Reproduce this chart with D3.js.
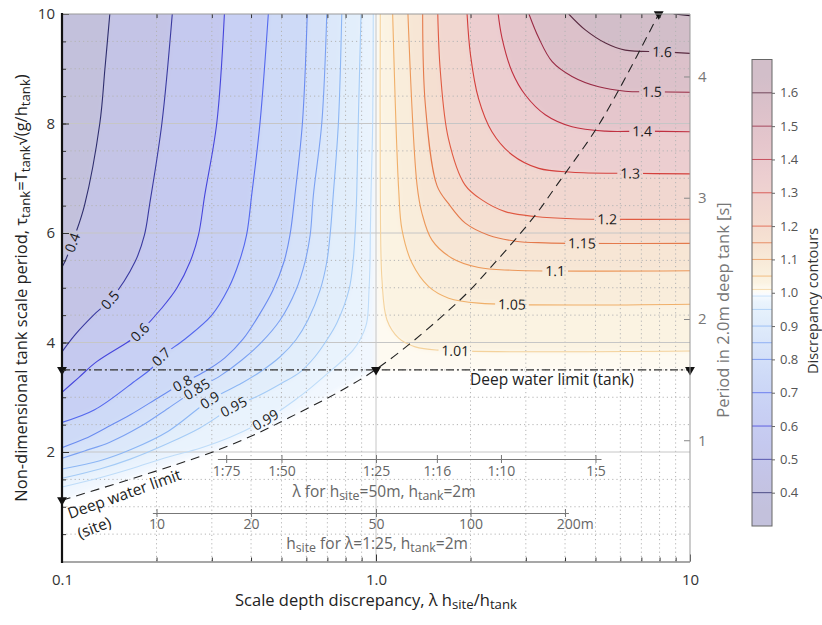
<!DOCTYPE html>
<html>
<head>
<meta charset="utf-8">
<script src="https://cdn.jsdelivr.net/npm/d3@7"></script>
<style>
  body { margin: 0; background: #fff; }
  text { font-family: "Open Sans", "Noto Sans", sans-serif; }
</style>
</head>
<body>
<svg id="chart" width="822" height="625"></svg>
<script>
// contour traces: [lambda h_site/h_tank, tau]
var lvl040 = [[0.142,10],[0.137,9.0],[0.132,8.01],[0.118,6.51],[0.110,5.96],[0.102,5.47],[0.1,5.38]];
var lvl050 = [[0.2245,10],[0.208,8.0],[0.190,6.51],[0.183,5.96],[0.171,5.48],[0.144,4.81],[0.126,4.5],[0.110,4.14],[0.1,3.83]];
var lvl060 = [[0.329,10],[0.311,8.0],[0.285,6.70],[0.272,5.96],[0.256,5.48],[0.232,4.99],[0.208,4.63],[0.177,4.19],[0.167,4.06],[0.129,3.65],[0.113,3.36],[0.1,3.09]];
var lvl070 = [[0.454,10],[0.427,8.0],[0.402,6.70],[0.387,5.96],[0.367,5.48],[0.339,4.99],[0.300,4.50],[0.246,4.06],[0.207,3.74],[0.193,3.53],[0.173,3.32],[0.127,2.77],[0.1,2.54]];
var lvl080 = [[0.604,10],[0.583,8.01],[0.552,6.70],[0.532,5.96],[0.509,5.47],[0.470,4.96],[0.424,4.50],[0.377,4.06],[0.330,3.72],[0.285,3.47],[0.241,3.25],[0.205,3.01],[0.165,2.68],[0.140,2.46],[0.118,2.24],[0.1,2.08]];
var lvl085 = [[0.697,10],[0.672,8.01],[0.632,6.70],[0.617,5.96],[0.594,5.47],[0.556,4.96],[0.495,4.41],[0.433,4.01],[0.374,3.68],[0.319,3.39],[0.269,3.15],[0.218,2.80],[0.177,2.46],[0.142,2.18],[0.118,2.02],[0.1,1.885]];
var lvl090 = [[0.778,10],[0.759,8.01],[0.731,6.70],[0.714,5.96],[0.697,5.47],[0.664,4.96],[0.607,4.41],[0.556,4.05],[0.495,3.74],[0.427,3.46],[0.374,3.26],[0.296,2.95],[0.218,2.38],[0.165,2.04],[0.132,1.84],[0.1,1.69]];
var lvl095 = [[0.896,10],[0.878,8.01],[0.868,6.70],[0.857,5.96],[0.845,5.47],[0.820,4.96],[0.751,4.36],[0.698,4.05],[0.639,3.74],[0.573,3.46],[0.502,3.26],[0.427,3.04],[0.351,2.82],[0.275,2.44],[0.218,2.16],[0.165,1.87],[0.132,1.69],[0.1,1.52]];
var lvl099 = [[0.980,10],[0.976,8.01],[0.964,6.70],[0.959,5.96],[0.957,5.47],[0.950,4.96],[0.934,4.36],[0.889,4.05],[0.845,3.86],[0.768,3.63],[0.703,3.44],[0.625,3.19],[0.552,2.95],[0.443,2.58],[0.343,2.27],[0.275,2.07],[0.218,1.91],[0.165,1.69],[0.132,1.53],[0.1,1.36]];
var lvl101 = [[1.032,10],[1.032,6.97],[1.045,5.14],[1.084,4.41],[1.181,4.08],[1.334,3.92],[1.585,3.86],[10,3.845]];
var lvl105 = [[1.130,10],[1.181,6.79],[1.21,6.06],[1.302,5.45],[1.472,5.02],[1.704,4.81],[2.124,4.72],[10,4.70]];
var lvl110 = [[1.264,10],[1.351,6.88],[1.401,6.36],[1.508,5.87],[1.746,5.54],[2.124,5.37],[2.711,5.32],[10,5.31]];
var lvl115 = [[1.408,10],[1.436,8.34],[1.565,6.86],[1.70,6.54],[1.925,6.18],[2.285,5.96],[2.78,5.85],[3.46,5.82],[10,5.81]];
var lvl120 = [[1.573,10],[1.603,8.95],[1.70,7.73],[1.92,6.88],[2.18,6.60],[2.58,6.39],[3.22,6.30],[4.21,6.26],[10,6.25]];
var lvl130 = [[1.95,10],[2.00,9.25],[2.12,8.46],[2.34,7.85],[2.71,7.43],[3.30,7.18],[4.21,7.11],[6.46,7.09],[10,7.08]];
var lvl140 = [[2.45,10],[2.52,9.56],[2.71,8.95],[2.99,8.52],[3.46,8.16],[4.21,7.94],[5.38,7.86],[7.03,7.86],[10,7.85]];
var lvl150 = [[3.07,10],[3.30,9.56],[3.64,9.13],[4.21,8.86],[5.12,8.67],[6.22,8.59],[7.57,8.58],[10,8.57]];
var lvl160 = [[4.11,10],[4.64,9.71],[5.38,9.47],[6.22,9.34],[8.14,9.31],[10,9.28]];
var lvl170 = [[8.87,10],[10,9.97]];

var blueLevels = [0.4, 0.5, 0.6, 0.7, 0.8, 0.85, 0.9, 0.95, 0.99];
var redLevels = [1.01, 1.05, 1.1, 1.15, 1.2, 1.3, 1.4, 1.5, 1.6, 1.7];
var blueTraces = [lvl040, lvl050, lvl060, lvl070, lvl080, lvl085, lvl090, lvl095, lvl099];
var redTraces = [lvl101, lvl105, lvl110, lvl115, lvl120, lvl130, lvl140, lvl150, lvl160, lvl170];

// deep water limits
var deepSite = [[0.1,1.12],[0.315,2.04],[0.526,2.62],[1,3.51],[1.83,4.75],[2.31,5.36],[3.22,6.33],[3.77,6.88],[5.0,7.88],[5.93,8.61],[7.95,10]];
var deepTank = [[0.1,3.5],[10,3.5]];

// ticks
var yTicks = [2, 4, 6, 8, 10];
var xTicks = [0.1, 1, 10];
var periodTicks = [1, 2, 3, 4];
var scaleTicks = [75, 50, 25, 16, 10, 5];      // lambda = 1:n
var siteTicks = [10, 20, 50, 100, 200];         // h_site in m
var barTicks = [0.4, 0.5, 0.6, 0.7, 0.8, 0.9, 1.0, 1.1, 1.2, 1.3, 1.4, 1.5, 1.6];
var barEdges = [0.3, 0.4, 0.5, 0.6, 0.7, 0.8, 0.85, 0.9, 0.95, 0.99, 1.0, 1.01, 1.05, 1.1, 1.15, 1.2, 1.3, 1.4, 1.5, 1.6, 1.7];

// colours
var lineColor = {0.4:"#2e2e6e",0.5:"#3a3aa0",0.6:"#4646dc",0.7:"#5468ee",0.8:"#6a8cf0",0.85:"#7ca2f2",
  0.9:"#8cb6f4",0.95:"#a4cbf6",0.99:"#bedcf9",1.01:"#f4d29c",1.05:"#f0b06a",1.1:"#ec985a",1.15:"#e47a4c",
  1.2:"#e05a42",1.3:"#d4403c",1.4:"#c03040",1.5:"#982a44",1.6:"#5a2a40",1.7:"#301830"};
// fill of the band just past each level
var bandBelow = {1.0:"#f1f7fe",0.99:"#e9f3fd",0.95:"#e2eefb",0.9:"#dce8fa",0.85:"#d6e2f9",0.8:"#cedaf7",
  0.7:"#c8d0f4",0.6:"#c5c9ef",0.5:"#c4c4e6",0.4:"#c3c1dc"};
var bandAbove = {1.0:"#fefaf1",1.01:"#fbf3e2",1.05:"#f9eddb",1.1:"#f7e6d5",1.15:"#f5dfd1",1.2:"#f1d7d0",
  1.3:"#ecced0",1.4:"#e5c6cc",1.5:"#dcc1ca",1.6:"#d2bec9",1.7:"#cbbcc8"};

// where the inline contour labels sit
var labelSpots = [[0.4,0.110,5.81],[0.5,0.142,4.78],[0.6,0.177,4.19],[0.7,0.207,3.74],[0.8,0.241,3.26],
  [0.85,0.269,3.15],[0.9,0.296,2.95],[0.95,0.3525,2.82],[0.99,0.446,2.58],[1.01,1.789,3.86],[1.05,2.711,4.72],
  [1.1,3.725,5.33],[1.15,4.53,5.84],[1.2,5.443,6.27],[1.3,6.457,7.09],[1.4,7.034,7.86],[1.5,7.568,8.58],[1.6,8.143,9.31]];

var svg = d3.select("#chart");
var x = d3.scaleLog().domain([0.1, 10]).range([62, 690]);
var y = d3.scaleLinear().domain([0, 10]).range([561.5, 14]);
var smooth = d3.line().x(function(d){ return x(d[0]); }).y(function(d){ return y(d[1]); }).curve(d3.curveCatmullRom.alpha(0.5));
var straight = d3.line().x(function(d){ return x(d[0]); }).y(function(d){ return y(d[1]); });
function pt(a, b) { return x(a) + "," + y(b); }

var defs = svg.append("defs");
defs.append("clipPath").attr("id", "plotclip").append("rect")
  .attr("x", 62).attr("y", 14).attr("width", 628).attr("height", 547.5);
defs.append("filter").attr("id", "soft").attr("x", "-5%").attr("y", "-5%").attr("width", "110%").attr("height", "110%")
  .append("feGaussianBlur").attr("stdDeviation", 2.5);

// ---- filled field (bands, softened a little)
var fillG = svg.append("g").attr("clip-path", "url(#plotclip)").append("g").attr("filter", "url(#soft)");
var siteLow = deepSite.filter(function(d){ return d[0] <= 1; }).reverse();
fillG.append("path")
  .attr("d", "M" + pt(0.09, 10.3) + "L" + pt(1, 10.3) + "L" + pt(1, 3.5) + "L" +
    siteLow.map(function(d){ return pt(d[0], d[1]); }).join("L") + "L" + pt(0.09, 1.1) + "Z")
  .attr("fill", bandBelow[1.0]);
fillG.append("path").attr("d", "M" + pt(1, 10.3) + "L" + pt(11, 10.3) + "L" + pt(11, 3.5) + "L" + pt(1, 3.5) + "Z")
  .attr("fill", bandAbove[1.0]);

for (var i = blueLevels.length - 1; i >= 0; i--) {
  var tr = blueTraces[i], last = tr[tr.length - 1];
  fillG.append("path")
    .attr("d", "M" + pt(tr[0][0], 10.3) + "L" + smooth(tr).substring(1) + "L" + pt(0.09, last[1]) + "L" + pt(0.09, 10.3) + "Z")
    .attr("fill", bandBelow[blueLevels[i]]);
}
for (var i = 0; i < redLevels.length; i++) {
  var tr = redTraces[i], last = tr[tr.length - 1];
  fillG.append("path")
    .attr("d", "M" + pt(tr[0][0], 10.3) + "L" + smooth(tr).substring(1) + "L" + pt(11, last[1]) + "L" + pt(11, 10.3) + "Z")
    .attr("fill", bandAbove[redLevels[i]]);
}

// ---- grid
var gridG = svg.append("g").attr("clip-path", "url(#plotclip)");
var minorY = d3.range(0.5, 10, 0.5).filter(function(v){ return v % 2 !== 0; });
var minorX = [0.2,0.3,0.4,0.5,0.6,0.7,0.8,0.9,2,3,4,5,6,7,8,9];
gridG.selectAll(".gy").data(minorY).enter().append("line")
  .attr("x1", 62).attr("x2", 690).attr("y1", y).attr("y2", y)
  .attr("stroke", "#b4b4b4").attr("stroke-width", 1).attr("stroke-dasharray", "1.2,3");
gridG.selectAll(".gx").data(minorX).enter().append("line")
  .attr("y1", 14).attr("y2", 561.5).attr("x1", x).attr("x2", x)
  .attr("stroke", "#b4b4b4").attr("stroke-width", 1).attr("stroke-dasharray", "1.2,3");
gridG.selectAll(".gY").data([2,4,6,8]).enter().append("line")
  .attr("x1", 62).attr("x2", 690).attr("y1", y).attr("y2", y)
  .attr("stroke", "#c6c6c6").attr("stroke-width", 1);
gridG.append("line").attr("x1", x(1)).attr("x2", x(1)).attr("y1", 14).attr("y2", 561.5)
  .attr("stroke", "#c6c6c6").attr("stroke-width", 1);

// ---- contour lines with gaps for labels
var mask = defs.append("mask").attr("id", "lblmask").attr("maskUnits", "userSpaceOnUse")
  .attr("x", 0).attr("y", 0).attr("width", 822).attr("height", 625);
mask.append("rect").attr("width", 822).attr("height", 625).attr("fill", "#fff");

var lineG = svg.append("g").attr("clip-path", "url(#plotclip)").append("g").attr("mask", "url(#lblmask)");
var allLevels = blueLevels.concat(redLevels);
var allTraces = blueTraces.concat(redTraces);
var pathNode = {};
allLevels.forEach(function(v, k) {
  var p = lineG.append("path").attr("d", smooth(allTraces[k]))
    .attr("fill", "none").attr("stroke", lineColor[v]).attr("stroke-width", 1.1);
  pathNode[v] = p.node();
});

var labelG = svg.append("g");
labelSpots.forEach(function(s) {
  var node = pathNode[s[0]];
  var tx = x(s[1]), ty = y(s[2]);
  var len = node.getTotalLength(), best = 0, bd = 1e9;
  for (var t = 0; t <= len; t += 0.5) {
    var q = node.getPointAtLength(t);
    var dd = (q.x - tx) * (q.x - tx) + (q.y - ty) * (q.y - ty);
    if (dd < bd) { bd = dd; best = t; }
  }
  var c = node.getPointAtLength(best);
  var a = node.getPointAtLength(Math.max(0, best - 5));
  var b = node.getPointAtLength(Math.min(len, best + 5));
  var ang = Math.atan2(b.y - a.y, b.x - a.x) * 180 / Math.PI;
  if (ang > 90) ang -= 180;
  if (ang < -90) ang += 180;
  var txt = labelG.append("text")
    .attr("transform", "translate(" + c.x + "," + c.y + ") rotate(" + ang + ")")
    .attr("text-anchor", "middle").attr("dy", "0.36em")
    .attr("font-size", 14).attr("fill", "#1a1a1a")
    .text(s[0]);
  var w = txt.node().getComputedTextLength() + 6;
  mask.append("rect")
    .attr("transform", "translate(" + c.x + "," + c.y + ") rotate(" + ang + ")")
    .attr("x", -w / 2).attr("y", -6.5).attr("width", w).attr("height", 13).attr("fill", "#000");
});

// ---- deep water limit lines
var limG = svg.append("g").attr("clip-path", "url(#plotclip)");
limG.append("path").attr("d", smooth(deepSite)).attr("fill", "none")
  .attr("stroke", "#222").attr("stroke-width", 1.1).attr("stroke-dasharray", "9,6");
limG.append("path").attr("d", straight(deepTank)).attr("fill", "none")
  .attr("stroke", "#333").attr("stroke-width", 1.3).attr("stroke-dasharray", "8,3,2,3");

var tri = d3.symbol().type(d3.symbolTriangle).size(42);
var markers = [[0.1,3.5],[1,3.5],[10,3.5],deepSite[0],deepSite[deepSite.length - 1]];
svg.selectAll(".mk").data(markers).enter().append("path")
  .attr("d", tri)
  .attr("transform", function(d){ return "translate(" + x(d[0]) + "," + y(d[1]) + ") rotate(180)"; })
  .attr("fill", "#111");

svg.append("text").attr("x", 470).attr("y", 385).attr("font-size", 15.5).attr("fill", "#222")
  .text("Deep water limit (tank)");
svg.append("text").attr("transform", "translate(70,519) rotate(-19.5)").attr("font-size", 15.5).attr("fill", "#222")
  .text("Deep water limit");
svg.append("text").attr("transform", "translate(80,539) rotate(-21)").attr("font-size", 15.5).attr("fill", "#222")
  .text("(site)");

// rich text helper for sub-scripts
function rich(sel, parts, size) {
  parts.forEach(function(p) {
    var sub = p[1] === 1;
    sel.append("tspan").attr("font-size", sub ? size * 0.8 : size)
      .attr("baseline-shift", sub ? "-25%" : null).text(p[0]);
  });
}

// ---- secondary scale axes inside the plot
var lamScale = d3.scaleLog().domain([80, 4.8]).range([x(25 / 80), x(25 / 4.8)]);
var lamAxis = svg.append("g").attr("transform", "translate(0,459)")
  .call(d3.axisBottom(lamScale).tickValues(scaleTicks).tickSizeInner(4).tickSizeOuter(0).tickPadding(3)
    .tickFormat(function(d){ return "1:" + d; }));
lamAxis.selectAll(".tick line").attr("y1", -4).attr("stroke", "#777");
lamAxis.select(".domain").attr("stroke", "#777");
lamAxis.selectAll("text").attr("font-size", 14).attr("fill", "#666").attr("font-family", null);
var lamTitle = svg.append("text").attr("x", 384).attr("y", 497).attr("text-anchor", "middle").attr("fill", "#666");
rich(lamTitle, [["\u03bb for h",0],["site",1],["=50m, h",0],["tank",1],["=2m",0]], 15.5);

var siteScale = d3.scaleLog().domain([9.7, 205]).range([x(9.7 / 50), x(205 / 50)]);
var siteAxis = svg.append("g").attr("transform", "translate(0,513)")
  .call(d3.axisBottom(siteScale).tickValues(siteTicks).tickSizeInner(4).tickSizeOuter(0).tickPadding(2)
    .tickFormat(function(d){ return d === 200 ? "200m" : d; }));
siteAxis.selectAll(".tick line").attr("y1", -4).attr("stroke", "#777");
siteAxis.select(".domain").attr("stroke", "#777");
siteAxis.selectAll("text").attr("font-size", 14).attr("fill", "#666").attr("font-family", null);
siteAxis.selectAll(".tick text").filter(function(d){ return d === 200; }).attr("dx", "0.7em");
var siteTitle = svg.append("text").attr("x", 377).attr("y", 549).attr("text-anchor", "middle").attr("fill", "#666");
rich(siteTitle, [["h",0],["site",1],[" for \u03bb=1:25, h",0],["tank",1],["=2m",0]], 15.5);

// ---- main axes
var axG = svg.append("g");
var yMinor = axG.append("g").attr("transform", "translate(62,0)")
  .call(d3.axisLeft(y).tickValues(d3.range(0.5, 10, 0.5)).tickSize(-4).tickFormat(""));
var yMajor = axG.append("g").attr("transform", "translate(62,0)")
  .call(d3.axisLeft(y).tickValues(yTicks).tickSize(-7).tickPadding(7));
var xMinor = axG.append("g").attr("transform", "translate(0,561.5)")
  .call(d3.axisBottom(x).tickValues(minorX).tickSize(-4).tickFormat(""));
var xTop = axG.append("g").attr("transform", "translate(0,14)")
  .call(d3.axisTop(x).tickValues(minorX).tickSize(-4).tickFormat(""));
var xMajor = axG.append("g").attr("transform", "translate(0,561.5)")
  .call(d3.axisBottom(x).tickValues(xTicks).tickSize(-7).tickPadding(13)
    .tickFormat(function(d){ return d === 1 ? "1.0" : d; }));
[yMinor, yMajor, xMinor, xTop, xMajor].forEach(function(g) {
  g.select(".domain").remove();
  g.selectAll(".tick line").attr("stroke", "#333");
  g.selectAll("text").attr("font-size", 15).attr("fill", "#333").attr("font-family", null);
});

var periodScale = d3.scaleLinear().domain([0, 10 * Math.sqrt(2 / 9.81)]).range([561.5, 14]);
var pAxis = axG.append("g").attr("transform", "translate(690,0)")
  .call(d3.axisRight(periodScale).tickValues(periodTicks).tickSize(-6).tickPadding(8).tickFormat(d3.format("d")));
pAxis.select(".domain").remove();
pAxis.selectAll(".tick line").attr("stroke", "#888");
pAxis.selectAll("text").attr("font-size", 15).attr("fill", "#777").attr("font-family", null);

// frame
axG.append("line").attr("x1", 62).attr("x2", 690).attr("y1", 14).attr("y2", 14).attr("stroke", "#999");
axG.append("line").attr("x1", 690).attr("x2", 690).attr("y1", 14).attr("y2", 562).attr("stroke", "#999");
axG.append("line").attr("x1", 62).attr("x2", 690).attr("y1", 562).attr("y2", 562).attr("stroke", "#8a8a8a").attr("stroke-width", 1.6);
axG.append("line").attr("x1", 62).attr("x2", 62).attr("y1", 13).attr("y2", 563).attr("stroke", "#111").attr("stroke-width", 2.2);

// titles
var xTitle = svg.append("text").attr("x", 376).attr("y", 606).attr("text-anchor", "middle").attr("fill", "#222");
rich(xTitle, [["Scale depth discrepancy, \u03bb h",0],["site",1],["/h",0],["tank",1]], 16.5);
var yTitle = svg.append("text").attr("transform", "translate(27,288) rotate(-90)").attr("text-anchor", "middle").attr("fill", "#222");
rich(yTitle, [["Non-dimensional tank scale period, \u03c4",0],["tank",1],["=T",0],["tank",1],["\u221a(g/h",0],["tank",1],[")",0]], 16.5);
svg.append("text").attr("transform", "translate(729,310) rotate(-90)").attr("text-anchor", "middle")
  .attr("font-size", 16.5).attr("fill", "#777").text("Period in 2.0m deep tank [s]");

// ---- colour bar
var cb = d3.scaleLinear().domain([0.3, 1.7]).range([526, 59.5]);
var grad = defs.append("linearGradient").attr("id", "cbgrad")
  .attr("x1", 0).attr("y1", 1).attr("x2", 0).attr("y2", 0);
for (var k = 0; k < barEdges.length - 1; k++) {
  var lo = barEdges[k], hi = barEdges[k + 1], mid = (lo + hi) / 2;
  var col = lo < 1 ? bandBelow[hi] : bandAbove[lo];
  if (lo === 0.99) col = "#f8fbff";
  if (lo === 1.0) col = "#fefcf6";
  grad.append("stop").attr("offset", (mid - 0.3) / 1.4).attr("stop-color", col);
}
var cbG = svg.append("g");
cbG.append("rect").attr("x", 752).attr("y", cb(1.7)).attr("width", 20).attr("height", cb(0.3) - cb(1.7))
  .attr("fill", "url(#cbgrad)");
cbG.selectAll(".cl").data(allLevels.filter(function(v){ return v < 1.7; })).enter().append("line")
  .attr("x1", 752).attr("x2", 772).attr("y1", cb).attr("y2", cb)
  .attr("stroke", function(v){ return lineColor[v]; }).attr("stroke-width", 1).attr("opacity", 0.8);
cbG.append("rect").attr("x", 752).attr("y", cb(1.7)).attr("width", 20).attr("height", cb(0.3) - cb(1.7))
  .attr("fill", "none").attr("stroke", "#666").attr("stroke-width", 1);
var cbAxis = cbG.append("g").attr("transform", "translate(772,0)")
  .call(d3.axisRight(cb).tickValues(barTicks).tickSize(3).tickPadding(5).tickFormat(d3.format(".1f")));
cbAxis.select(".domain").remove();
cbAxis.selectAll(".tick line").attr("stroke", "#666");
cbAxis.selectAll("text").attr("font-size", 13).attr("fill", "#555").attr("font-family", null);
svg.append("text").attr("transform", "translate(818,301) rotate(-90)").attr("text-anchor", "middle")
  .attr("font-size", 14.5).attr("fill", "#333").text("Discrepancy contours");
</script>
</body>
</html>
